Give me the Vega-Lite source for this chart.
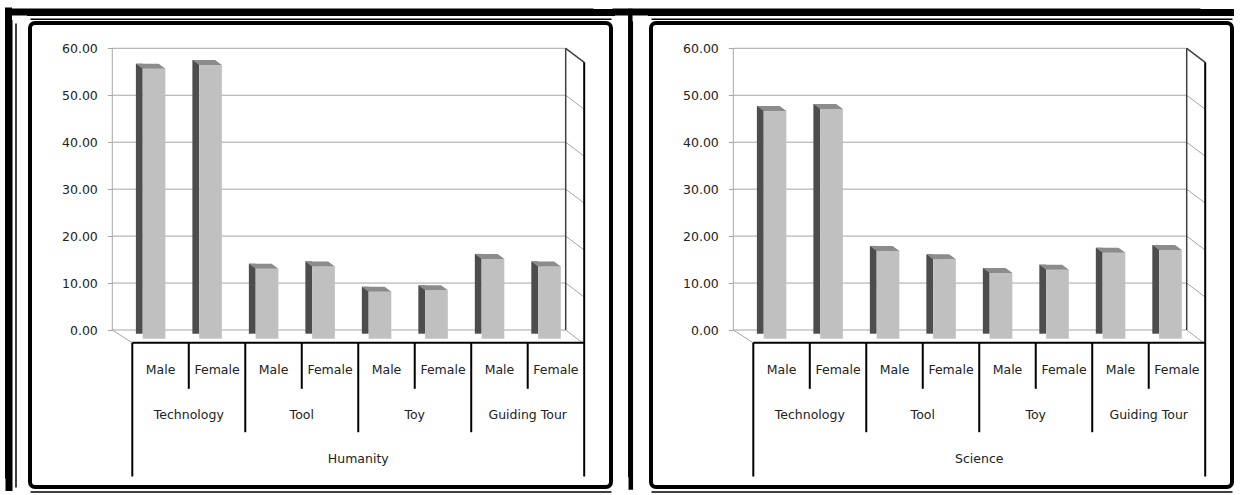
{
  "$schema": "https://vega.github.io/schema/vega-lite/v6.json",
  "padding": {"left": 6, "top": 10, "right": 0, "bottom": 0},
  "background": "white",
  "spacing": 40,
  "bounds": "flush",
  "config": {
    "view": {"stroke": "#000000", "strokeWidth": 4, "cornerRadius": 5, "fill": "white"},
    "font": "DejaVu Sans",
    "text": {"font": "DejaVu Sans", "fontSize": 12.5, "color": "#222222"}
  },
  "datasets": {
    "grid": [{"v": 0}, {"v": 10}, {"v": 20}, {"v": 30}, {"v": 40}, {"v": 50}, {"v": 60}],
    "hum": [
      {"panel": "Humanity", "group": "Technology", "gender": "Male", "value": 57.5},
      {"panel": "Humanity", "group": "Technology", "gender": "Female", "value": 58.3},
      {"panel": "Humanity", "group": "Tool", "gender": "Male", "value": 14.9},
      {"panel": "Humanity", "group": "Tool", "gender": "Female", "value": 15.4},
      {"panel": "Humanity", "group": "Toy", "gender": "Male", "value": 10.0},
      {"panel": "Humanity", "group": "Toy", "gender": "Female", "value": 10.3},
      {"panel": "Humanity", "group": "Guiding Tour", "gender": "Male", "value": 17.0},
      {"panel": "Humanity", "group": "Guiding Tour", "gender": "Female", "value": 15.4}
    ],
    "sci": [
      {"panel": "Science", "group": "Technology", "gender": "Male", "value": 48.5},
      {"panel": "Science", "group": "Technology", "gender": "Female", "value": 48.9},
      {"panel": "Science", "group": "Tool", "gender": "Male", "value": 18.7},
      {"panel": "Science", "group": "Tool", "gender": "Female", "value": 16.9},
      {"panel": "Science", "group": "Toy", "gender": "Male", "value": 14.0},
      {"panel": "Science", "group": "Toy", "gender": "Female", "value": 14.7},
      {"panel": "Science", "group": "Guiding Tour", "gender": "Male", "value": 18.3},
      {"panel": "Science", "group": "Guiding Tour", "gender": "Female", "value": 18.9}
    ]
  },
  "hconcat": [
    {
      "width": 581,
      "height": 464,
      "resolve": {"axis": {"x": "independent", "y": "independent"}},
      "layer": [
        {
          "data": {"name": "grid"},
          "mark": {"type": "rule", "color": "#a6a6a6", "strokeWidth": 1, "xOffset": -20, "x2Offset": -18.5},
          "encoding": {
            "x": {"datum": "Technology Male", "type": "nominal", "bandPosition": 0, "scale": {"type": "band", "domain": ["pad", "Technology Male", "Technology Female", "Tool Male", "Tool Female", "Toy Male", "Toy Female", "Guiding Tour Male", "Guiding Tour Female"], "paddingInner": 0, "paddingOuter": 0.64268, "align": 0.6309}, "axis": null},
            "x2": {"datum": "Guiding Tour Female", "bandPosition": 1},
            "y": {"field": "v", "type": "quantitative", "scale": {"domain": [-33.44, 65.39], "nice": false, "zero": false}, "axis": {"orient": "left", "offset": -82.3, "values": [0, 10, 20, 30, 40, 50, 60], "format": ".2f", "domain": false, "grid": false, "tickSize": 5, "tickColor": "#a6a6a6", "labelPadding": 10, "labelFontSize": 12.5, "labelColor": "#222222", "labelFont": "DejaVu Sans", "title": null}}
          }
        },
        {
          "data": {"name": "grid"},
          "transform": [{"filter": "datum.v < 60"}],
          "mark": {"type": "rule", "color": "#a6a6a6", "strokeWidth": 1, "xOffset": -18.5, "y2Offset": 14},
          "encoding": {
            "x": {"datum": "Guiding Tour Female", "type": "nominal", "bandPosition": 1, "axis": null},
            "x2": {"datum": "Guiding Tour Female", "bandPosition": 1},
            "y": {"field": "v", "type": "quantitative", "axis": {"orient": "left", "offset": 21.5, "domainColor": "#000000", "domainWidth": 7, "domainCap": "square", "ticks": false, "labels": false, "grid": false, "title": null}},
            "y2": {"field": "v"}
          }
        },
        {
          "data": {"values": [{}]},
          "mark": {"type": "rule", "color": "#404040", "strokeWidth": 1.5, "xOffset": -18.5, "y2Offset": 14},
          "encoding": {
            "x": {"datum": "Guiding Tour Female", "type": "nominal", "bandPosition": 1, "axis": null},
            "x2": {"datum": "Guiding Tour Female", "bandPosition": 1},
            "y": {"datum": 60, "type": "quantitative", "axis": null},
            "y2": {"datum": 60}
          }
        },
        {
          "data": {"values": [{}]},
          "mark": {"type": "rule", "color": "#404040", "strokeWidth": 1.5, "xOffset": -18.5},
          "encoding": {
            "x": {"datum": "Guiding Tour Female", "type": "nominal", "bandPosition": 1, "axis": null},
            "y": {"datum": 0, "type": "quantitative", "axis": null},
            "y2": {"datum": 60}
          }
        },
        {
          "data": {"values": [{}]},
          "mark": {"type": "rule", "color": "#a6a6a6", "strokeWidth": 1, "xOffset": -20},
          "encoding": {
            "x": {"datum": "Technology Male", "type": "nominal", "bandPosition": 0, "axis": null},
            "y": {"datum": 0, "type": "quantitative", "axis": null},
            "y2": {"datum": 60}
          }
        },
        {
          "data": {"values": [{}]},
          "mark": {"type": "rule", "color": "#a6a6a6", "strokeWidth": 1, "xOffset": -20},
          "encoding": {
            "x": {"datum": "Technology Male", "type": "nominal", "bandPosition": 0, "axis": null},
            "x2": {"datum": "Technology Male", "bandPosition": 0},
            "y": {"datum": 0, "type": "quantitative", "axis": null},
            "y2": {"datum": -2.73}
          }
        },
        {
          "data": {"name": "hum"},
          "transform": [{"calculate": "datum.group + ' ' + datum.gender", "as": "cat"}],
          "mark": {"type": "bar", "color": "#4d4d4d", "width": 6.8, "xOffset": -21.25, "yOffset": 3.7, "y2Offset": 6.2},
          "encoding": {
            "x": {"field": "cat", "type": "nominal", "axis": {"orient": "top", "offset": 4.3, "domainColor": "#000000", "domainWidth": 1.5, "ticks": false, "labels": false, "grid": false, "title": null}},
            "y": {"field": "value", "type": "quantitative", "axis": {"orient": "left", "offset": 14.5, "domainColor": "#000000", "domainWidth": 1.5, "ticks": false, "labels": false, "grid": false, "title": null}}
          }
        },
        {
          "data": {"name": "hum"},
          "transform": [{"calculate": "datum.group + ' ' + datum.gender", "as": "cat"}],
          "mark": {"type": "bar", "color": "#c0c0c0", "width": 22.7, "xOffset": -6.5, "yOffset": 8.7, "y2Offset": 8.7},
          "encoding": {
            "x": {"field": "cat", "type": "nominal", "axis": {"orient": "top", "offset": 11, "domainColor": "#000000", "domainWidth": 7, "domainCap": "square", "ticks": false, "labels": false, "grid": false, "title": null}},
            "y": {"field": "value", "type": "quantitative", "axis": {"orient": "right", "offset": 19.3, "domainColor": "#000000", "domainWidth": 4.5, "domainCap": "square", "ticks": false, "labels": false, "grid": false, "title": null}}
          }
        },
        {
          "data": {"name": "hum"},
          "transform": [{"calculate": "datum.group + ' ' + datum.gender", "as": "cat"}],
          "mark": {"type": "point", "shape": "M-17.9,8.7L4.9,8.7L-1.9,3.7L-24.7,3.7Z", "size": 4, "filled": true, "color": "#8c8c8c", "opacity": 1, "strokeWidth": 0},
          "encoding": {
            "x": {"field": "cat", "type": "nominal", "axis": {"orient": "bottom", "offset": 4.5, "domainColor": "#000000", "domainWidth": 1.5, "ticks": false, "labels": false, "grid": false, "title": null}},
            "y": {"field": "value", "type": "quantitative", "axis": {"orient": "left", "offset": 9.5, "translate": -12, "domainColor": "#000000", "domainWidth": 7, "domainCap": "square", "ticks": false, "labels": false, "grid": false, "title": null}}
          }
        },
        {
          "data": {"values": [{}]},
          "mark": {"type": "rule", "color": "#000000", "strokeWidth": 2},
          "encoding": {
            "x": {"datum": "Technology Male", "type": "nominal", "bandPosition": 0, "axis": null},
            "x2": {"datum": "Guiding Tour Female", "bandPosition": 1},
            "y": {"datum": -2.73, "type": "quantitative", "axis": null}
          }
        },
        {
          "data": {"values": [{}]},
          "mark": {"type": "rule", "color": "#000000", "strokeWidth": 2},
          "encoding": {
            "x": {"datum": "Technology Male", "type": "nominal", "bandPosition": 0, "axis": null},
            "y": {"datum": -2.73, "type": "quantitative", "axis": {"orient": "right", "offset": 31.3, "translate": -12, "domainColor": "#000000", "domainWidth": 4.5, "domainCap": "square", "ticks": false, "labels": false, "grid": false, "title": null}},
            "y2": {"datum": -31.2}
          }
        },
        {
          "data": {"values": [{}]},
          "mark": {"type": "rule", "color": "#000000", "strokeWidth": 2, "yOffset": 14},
          "encoding": {
            "x": {"datum": "Guiding Tour Female", "type": "nominal", "bandPosition": 1, "axis": null},
            "y": {"datum": 60, "type": "quantitative", "axis": null},
            "y2": {"datum": -31.2}
          }
        },
        {
          "data": {"name": "hum"},
          "transform": [{"calculate": "datum.group + ' ' + datum.gender", "as": "cat"}, {"filter": "datum.gender == 'Female'"}],
          "mark": {"type": "rule", "color": "#000000", "strokeWidth": 2},
          "encoding": {
            "x": {"field": "cat", "type": "nominal", "bandPosition": 0, "axis": null},
            "y": {"datum": -2.73, "type": "quantitative", "axis": null},
            "y2": {"datum": -12.52}
          }
        },
        {
          "data": {"name": "hum"},
          "transform": [{"calculate": "datum.group + ' ' + datum.gender", "as": "cat"}, {"filter": "datum.gender == 'Male' && datum.group != 'Technology'"}],
          "mark": {"type": "rule", "color": "#000000", "strokeWidth": 2},
          "encoding": {
            "x": {"field": "cat", "type": "nominal", "bandPosition": 0, "axis": null},
            "y": {"datum": -2.73, "type": "quantitative", "axis": null},
            "y2": {"datum": -21.77}
          }
        },
        {
          "data": {"name": "hum"},
          "transform": [{"calculate": "datum.group + ' ' + datum.gender", "as": "cat"}],
          "mark": {"type": "text", "fontSize": 12.5, "font": "DejaVu Sans", "color": "#222222", "align": "center", "baseline": "middle"},
          "encoding": {
            "x": {"field": "cat", "type": "nominal", "axis": null},
            "y": {"datum": -8.56, "type": "quantitative", "axis": null},
            "text": {"field": "gender"}
          }
        },
        {
          "data": {"name": "hum"},
          "transform": [{"calculate": "datum.group + ' ' + datum.gender", "as": "cat"}, {"filter": "datum.gender == 'Female'"}],
          "mark": {"type": "text", "fontSize": 12.5, "font": "DejaVu Sans", "color": "#222222", "align": "center", "baseline": "middle"},
          "encoding": {
            "x": {"field": "cat", "type": "nominal", "bandPosition": 0, "axis": {"orient": "top", "offset": -10, "translate": -21, "domainColor": "#000000", "domainWidth": 7, "domainCap": "square", "ticks": false, "labels": false, "grid": false, "title": null}},
            "y": {"datum": -18, "type": "quantitative", "axis": null},
            "text": {"field": "group"}
          }
        },
        {
          "data": {"name": "hum"},
          "transform": [{"calculate": "datum.group + ' ' + datum.gender", "as": "cat"}, {"filter": "datum.group == 'Toy' && datum.gender == 'Male'"}],
          "mark": {"type": "text", "fontSize": 12.5, "font": "DejaVu Sans", "color": "#222222", "align": "center", "baseline": "middle"},
          "encoding": {
            "x": {"field": "cat", "type": "nominal", "bandPosition": 0, "axis": null},
            "y": {"datum": -27.5, "type": "quantitative", "axis": null},
            "text": {"field": "panel"}
          }
        }
      ]
    },
    {
      "width": 581,
      "height": 464,
      "resolve": {"axis": {"x": "independent", "y": "independent"}},
      "layer": [
        {
          "data": {"name": "grid"},
          "mark": {"type": "rule", "color": "#a6a6a6", "strokeWidth": 1, "xOffset": -20, "x2Offset": -18.5},
          "encoding": {
            "x": {"datum": "Technology Male", "type": "nominal", "bandPosition": 0, "scale": {"type": "band", "domain": ["pad", "Technology Male", "Technology Female", "Tool Male", "Tool Female", "Toy Male", "Toy Female", "Guiding Tour Male", "Guiding Tour Female"], "paddingInner": 0, "paddingOuter": 0.64268, "align": 0.6309}, "axis": null},
            "x2": {"datum": "Guiding Tour Female", "bandPosition": 1},
            "y": {"field": "v", "type": "quantitative", "scale": {"domain": [-33.44, 65.39], "nice": false, "zero": false}, "axis": {"orient": "left", "offset": -82.3, "values": [0, 10, 20, 30, 40, 50, 60], "format": ".2f", "domain": false, "grid": false, "tickSize": 5, "tickColor": "#a6a6a6", "labelPadding": 10, "labelFontSize": 12.5, "labelColor": "#222222", "labelFont": "DejaVu Sans", "title": null}}
          }
        },
        {
          "data": {"name": "grid"},
          "transform": [{"filter": "datum.v < 60"}],
          "mark": {"type": "rule", "color": "#a6a6a6", "strokeWidth": 1, "xOffset": -18.5, "y2Offset": 14},
          "encoding": {
            "x": {"datum": "Guiding Tour Female", "type": "nominal", "bandPosition": 1, "axis": null},
            "x2": {"datum": "Guiding Tour Female", "bandPosition": 1},
            "y": {"field": "v", "type": "quantitative", "axis": null},
            "y2": {"field": "v"}
          }
        },
        {
          "data": {"values": [{}]},
          "mark": {"type": "rule", "color": "#404040", "strokeWidth": 1.5, "xOffset": -18.5, "y2Offset": 14},
          "encoding": {
            "x": {"datum": "Guiding Tour Female", "type": "nominal", "bandPosition": 1, "axis": null},
            "x2": {"datum": "Guiding Tour Female", "bandPosition": 1},
            "y": {"datum": 60, "type": "quantitative", "axis": null},
            "y2": {"datum": 60}
          }
        },
        {
          "data": {"values": [{}]},
          "mark": {"type": "rule", "color": "#404040", "strokeWidth": 1.5, "xOffset": -18.5},
          "encoding": {
            "x": {"datum": "Guiding Tour Female", "type": "nominal", "bandPosition": 1, "axis": null},
            "y": {"datum": 0, "type": "quantitative", "axis": null},
            "y2": {"datum": 60}
          }
        },
        {
          "data": {"values": [{}]},
          "mark": {"type": "rule", "color": "#a6a6a6", "strokeWidth": 1, "xOffset": -20},
          "encoding": {
            "x": {"datum": "Technology Male", "type": "nominal", "bandPosition": 0, "axis": null},
            "y": {"datum": 0, "type": "quantitative", "axis": null},
            "y2": {"datum": 60}
          }
        },
        {
          "data": {"values": [{}]},
          "mark": {"type": "rule", "color": "#a6a6a6", "strokeWidth": 1, "xOffset": -20},
          "encoding": {
            "x": {"datum": "Technology Male", "type": "nominal", "bandPosition": 0, "axis": null},
            "x2": {"datum": "Technology Male", "bandPosition": 0},
            "y": {"datum": 0, "type": "quantitative", "axis": null},
            "y2": {"datum": -2.73}
          }
        },
        {
          "data": {"name": "sci"},
          "transform": [{"calculate": "datum.group + ' ' + datum.gender", "as": "cat"}],
          "mark": {"type": "bar", "color": "#4d4d4d", "width": 6.8, "xOffset": -21.25, "yOffset": 3.7, "y2Offset": 6.2},
          "encoding": {
            "x": {"field": "cat", "type": "nominal", "axis": {"orient": "top", "offset": 4.3, "domainColor": "#000000", "domainWidth": 1.5, "ticks": false, "labels": false, "grid": false, "title": null}},
            "y": {"field": "value", "type": "quantitative", "axis": null}
          }
        },
        {
          "data": {"name": "sci"},
          "transform": [{"calculate": "datum.group + ' ' + datum.gender", "as": "cat"}],
          "mark": {"type": "bar", "color": "#c0c0c0", "width": 22.7, "xOffset": -6.5, "yOffset": 8.7, "y2Offset": 8.7},
          "encoding": {
            "x": {"field": "cat", "type": "nominal", "axis": {"orient": "top", "offset": 11, "domainColor": "#000000", "domainWidth": 7, "domainCap": "square", "ticks": false, "labels": false, "grid": false, "title": null}},
            "y": {"field": "value", "type": "quantitative", "axis": null}
          }
        },
        {
          "data": {"name": "sci"},
          "transform": [{"calculate": "datum.group + ' ' + datum.gender", "as": "cat"}],
          "mark": {"type": "point", "shape": "M-17.9,8.7L4.9,8.7L-1.9,3.7L-24.7,3.7Z", "size": 4, "filled": true, "color": "#8c8c8c", "opacity": 1, "strokeWidth": 0},
          "encoding": {
            "x": {"field": "cat", "type": "nominal", "axis": {"orient": "bottom", "offset": 4.5, "domainColor": "#000000", "domainWidth": 1.5, "ticks": false, "labels": false, "grid": false, "title": null}},
            "y": {"field": "value", "type": "quantitative", "axis": null}
          }
        },
        {
          "data": {"values": [{}]},
          "mark": {"type": "rule", "color": "#000000", "strokeWidth": 2},
          "encoding": {
            "x": {"datum": "Technology Male", "type": "nominal", "bandPosition": 0, "axis": null},
            "x2": {"datum": "Guiding Tour Female", "bandPosition": 1},
            "y": {"datum": -2.73, "type": "quantitative", "axis": null}
          }
        },
        {
          "data": {"values": [{}]},
          "mark": {"type": "rule", "color": "#000000", "strokeWidth": 2},
          "encoding": {
            "x": {"datum": "Technology Male", "type": "nominal", "bandPosition": 0, "axis": null},
            "y": {"datum": -2.73, "type": "quantitative", "axis": null},
            "y2": {"datum": -31.2}
          }
        },
        {
          "data": {"values": [{}]},
          "mark": {"type": "rule", "color": "#000000", "strokeWidth": 2, "yOffset": 14},
          "encoding": {
            "x": {"datum": "Guiding Tour Female", "type": "nominal", "bandPosition": 1, "axis": null},
            "y": {"datum": 60, "type": "quantitative", "axis": null},
            "y2": {"datum": -31.2}
          }
        },
        {
          "data": {"name": "sci"},
          "transform": [{"calculate": "datum.group + ' ' + datum.gender", "as": "cat"}, {"filter": "datum.gender == 'Female'"}],
          "mark": {"type": "rule", "color": "#000000", "strokeWidth": 2},
          "encoding": {
            "x": {"field": "cat", "type": "nominal", "bandPosition": 0, "axis": null},
            "y": {"datum": -2.73, "type": "quantitative", "axis": null},
            "y2": {"datum": -12.52}
          }
        },
        {
          "data": {"name": "sci"},
          "transform": [{"calculate": "datum.group + ' ' + datum.gender", "as": "cat"}, {"filter": "datum.gender == 'Male' && datum.group != 'Technology'"}],
          "mark": {"type": "rule", "color": "#000000", "strokeWidth": 2},
          "encoding": {
            "x": {"field": "cat", "type": "nominal", "bandPosition": 0, "axis": null},
            "y": {"datum": -2.73, "type": "quantitative", "axis": null},
            "y2": {"datum": -21.77}
          }
        },
        {
          "data": {"name": "sci"},
          "transform": [{"calculate": "datum.group + ' ' + datum.gender", "as": "cat"}],
          "mark": {"type": "text", "fontSize": 12.5, "font": "DejaVu Sans", "color": "#222222", "align": "center", "baseline": "middle"},
          "encoding": {
            "x": {"field": "cat", "type": "nominal", "axis": {"orient": "top", "offset": -24, "translate": -35, "domainColor": "#000000", "domainWidth": 7, "domainCap": "square", "ticks": false, "labels": false, "grid": false, "title": null}},
            "y": {"datum": -8.56, "type": "quantitative", "axis": null},
            "text": {"field": "gender"}
          }
        },
        {
          "data": {"name": "sci"},
          "transform": [{"calculate": "datum.group + ' ' + datum.gender", "as": "cat"}, {"filter": "datum.gender == 'Female'"}],
          "mark": {"type": "text", "fontSize": 12.5, "font": "DejaVu Sans", "color": "#222222", "align": "center", "baseline": "middle"},
          "encoding": {
            "x": {"field": "cat", "type": "nominal", "bandPosition": 0, "axis": null},
            "y": {"datum": -18, "type": "quantitative", "axis": null},
            "text": {"field": "group"}
          }
        },
        {
          "data": {"name": "sci"},
          "transform": [{"calculate": "datum.group + ' ' + datum.gender", "as": "cat"}, {"filter": "datum.group == 'Toy' && datum.gender == 'Male'"}],
          "mark": {"type": "text", "fontSize": 12.5, "font": "DejaVu Sans", "color": "#222222", "align": "center", "baseline": "middle"},
          "encoding": {
            "x": {"field": "cat", "type": "nominal", "bandPosition": 0, "axis": null},
            "y": {"datum": -27.5, "type": "quantitative", "axis": null},
            "text": {"field": "panel"}
          }
        }
      ]
    }
  ]
}
